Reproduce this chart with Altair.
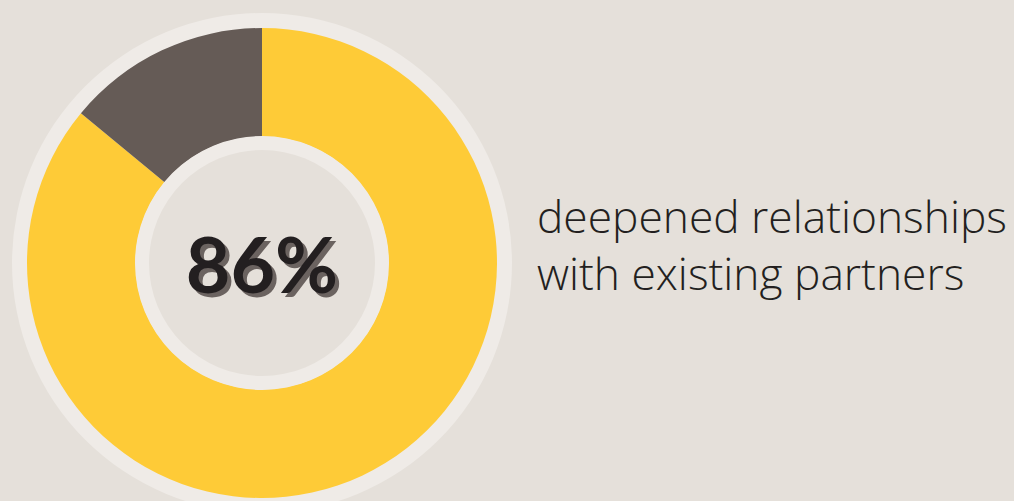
import altair as alt
import pandas as pd

# data
categories = ["deepened", "other"]
values = [86, 14]
colors = ["#FECB37", "#655B56"]
big_label = ["86%"]
caption_lines = ["deepened relationships", "with existing partners"]

BG = "#E5E0DA"
RING = "#EFEBE7"
CX, CY = 262, 263

df = pd.DataFrame({"cat": categories, "value": values, "order": [0, 1]})
one = pd.DataFrame({"k": [0]})
TWO_PI = 6.283185307

outer = alt.Chart(one).mark_arc(theta=0, theta2=TWO_PI, radius=250, color=RING).encode(
    x=alt.value(CX), y=alt.value(CY))

donut = alt.Chart(df).mark_arc(radius=235, radius2=126.5, stroke=None).encode(
    theta=alt.Theta("value:Q", stack=True),
    color=alt.Color("cat:N", scale=alt.Scale(domain=categories, range=colors), legend=None),
    order=alt.Order("order:Q"),
    x=alt.value(CX), y=alt.value(CY))

inner_ring = alt.Chart(one).mark_arc(theta=0, theta2=TWO_PI, radius=127, color=RING).encode(
    x=alt.value(CX), y=alt.value(CY))
inner_bg = alt.Chart(one).mark_arc(theta=0, theta2=TWO_PI, radius=113, color=BG).encode(
    x=alt.value(CX), y=alt.value(CY))

lab_df = pd.DataFrame({"t": big_label})
shadow = alt.Chart(lab_df).mark_text(font="Lato", fontWeight="bold", fontSize=77,
                                     align="center", baseline="alphabetic", color="#6B6360",
                                     dx=4, dy=4).encode(
    text="t:N", x=alt.value(CX), y=alt.value(293))
label = alt.Chart(lab_df).mark_text(font="Lato", fontWeight="bold", fontSize=77,
                                    align="center", baseline="alphabetic", color="#231F20").encode(
    text="t:N", x=alt.value(CX), y=alt.value(293))

cap_df = pd.DataFrame({"t": caption_lines, "i": [0, 1]})
cap1 = alt.Chart(cap_df.iloc[[0]]).mark_text(font="Open Sans", fontWeight=300, fontSize=44.3,
                                             align="left", baseline="alphabetic", color="#231F20").encode(
    text="t:N", x=alt.value(537), y=alt.value(233))
cap2 = alt.Chart(cap_df.iloc[[1]]).mark_text(font="Open Sans", fontWeight=300, fontSize=44.3,
                                             align="left", baseline="alphabetic", color="#231F20").encode(
    text="t:N", x=alt.value(537), y=alt.value(290))

chart = alt.layer(outer, donut, inner_ring, inner_bg, shadow, label, cap1, cap2).properties(
    width=1014, height=501, padding=0, autosize=alt.AutoSizeParams(type="none"),
    background=BG
).configure_view(stroke=None)

chart.save("out.html", embed_options={"renderer": "svg", "actions": False})
